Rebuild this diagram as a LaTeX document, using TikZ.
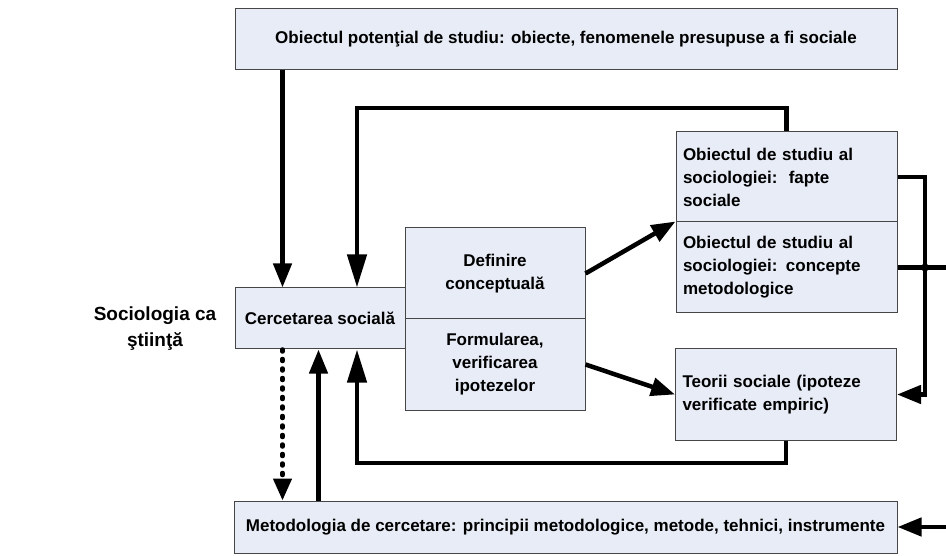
\documentclass[tikz,border=0pt]{standalone}
\usepackage{fontspec}
\setmainfont{Liberation Sans}
\usetikzlibrary{arrows.meta}

\definecolor{boxfill}{RGB}{231,236,246}
\definecolor{boxline}{RGB}{70,70,70}

\begin{document}
\begin{tikzpicture}[x=1pt,y=-1pt,
    box/.style={draw=boxline,fill=boxfill,line width=1pt,inner sep=6pt,
        font=\fontsize{17}{23}\selectfont\bfseries,align=center},
    sbox/.style={box,inner sep=7pt,text width=207pt,align=left},
    arr/.style={line width=4.5pt,-{Triangle[length=24pt,width=18pt]}},
    arrlong/.style={arr,-{Triangle[length=33pt,width=19pt]}},
    dotarr/.style={line width=4.5pt,line cap=round,dash pattern=on 2pt off 7.5pt,
        -{Triangle[length=22pt,width=18pt]}}]
    \useasboundingbox (0,0) rectangle (946,556);
    \clip (0,0) rectangle (946,556);

    \node[box,minimum width=662pt,minimum height=61pt] at (566,39.5) (pot){Obiectul potenţial de studiu: obiecte, fenomenele presupuse a fi sociale};
    \node[box,minimum width=170pt,minimum height=61pt] at (320,318.5) (cerc){Cercetarea socială};
    \node[box,minimum width=180pt,minimum height=91pt] at (495,273.5) (def){Definire\\conceptuală};
    \node[box,minimum width=180pt,minimum height=91pt] at (495,364.5) (ipo){Formularea,\\verificarea\\ipotezelor};
    \node[sbox,minimum height=90pt] at (786.5,177) (fapte){Obiectul de studiu al\\sociologiei:\ \ fapte\\sociale};
    \node[sbox,minimum height=91pt] at (786.5,267.5) (conc){Obiectul de studiu al\\sociologiei: concepte\\metodologice};
    \node[sbox,minimum height=91pt] at (786,394.5) (teorii){Teorii sociale (ipoteze\\verificate empiric)};
    \node[box,minimum width=663pt,minimum height=52pt] at (565.5,527) (met){Metodologia de cercetare: principii metodologice, metode, tehnici, instrumente};
    \node[font=\fontsize{19}{26}\selectfont\bfseries,align=center] at (155,329) (stiinta){Sociologia ca\\ştiinţă};

    % bend points of the connectors
    \coordinate (tl) at (357,108);
    \coordinate (bl) at (357,463);
    \coordinate (rv) at (925,394.5);
    \coordinate (out) at (962,267.5);

    \draw[arr] ([xshift=48pt]pot.south west) -- ([xshift=48pt]pot.south west |- cerc.north);
    \draw[arrlong] (fapte.north) |- (tl) -- (tl |- cerc.north);
    \draw[arr] (def.east) -- (conc.north west);
    \draw[arr] (ipo.east) -- (teorii.west);
    \draw[arrlong] (teorii.south) |- (bl) -- (bl |- cerc.south);
    \draw[dotarr] ([xshift=48pt]cerc.south west) -- ([xshift=48pt]cerc.south west |- met.north);
    \draw[arr] ([xshift=85pt]met.north west) -- ([xshift=85pt]met.north west |- cerc.south);
    \draw[arr] (fapte.east) -| (rv) -- (teorii.east);
    \draw[arr] (conc.east) -- (out) |- (met.east);
    \fill (conc.east -| rv) circle (4pt);
\end{tikzpicture}
\end{document}
